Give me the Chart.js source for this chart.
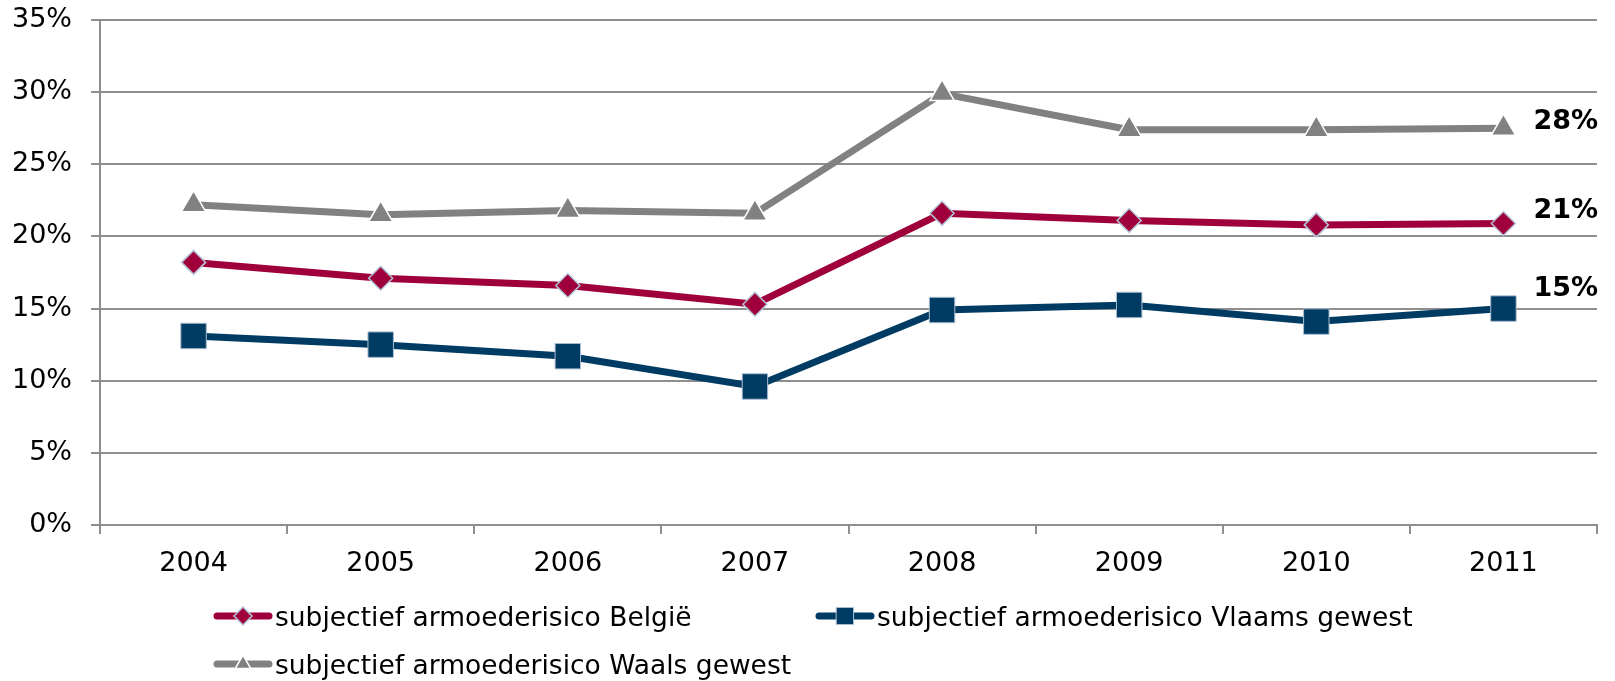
<!DOCTYPE html>
<html lang="nl">
<head>
    <meta charset="UTF-8">
    <title>Subjectief armoederisico</title>
    <script src="https://cdn.jsdelivr.net/npm/chart.js"></script>
    <style>
        body {
            margin: 0;
            background: #ffffff;
        }
        canvas {
            display: block;
        }
    </style>
</head>
<body>

    <canvas id="risico-chart" width="1615" height="681"></canvas>

    <script>
        // jaren en percentages
        const jaren = ['2004', '2005', '2006', '2007', '2008', '2009', '2010', '2011'];
        const belgie = [18.2, 17.1, 16.6, 15.3, 21.6, 21.1, 20.8, 20.9];
        const vlaanderen = [13.1, 12.5, 11.7, 9.6, 14.9, 15.25, 14.1, 15.0];
        const wallonie = [22.2, 21.5, 21.8, 21.6, 29.9, 27.4, 27.4, 27.5];
        const yTicks = [0, 5, 10, 15, 20, 25, 30, 35];

        const namen = [
            'subjectief armoederisico België',
            'subjectief armoederisico Vlaams gewest',
            'subjectief armoederisico Waals gewest'
        ];

        const kleurRood = '#9f003b';
        const kleurBlauw = '#003b63';
        const kleurGrijs = '#818181';
        const rasterKleur = '#8e8e8e';

        // eigen legende: lijn met marker in het midden
        const legendePlugin = {
            id: 'legende',
            afterDraw(chart) {
                const ctx = chart.ctx;
                const posities = [[214, 616], [816, 616], [214, 664]];
                chart.data.datasets.forEach(function(ds, i) {
                    const x = posities[i][0], y = posities[i][1];
                    ctx.save();
                    ctx.strokeStyle = ds.borderColor;
                    ctx.lineWidth = 7;
                    ctx.lineCap = 'round';
                    ctx.beginPath();
                    ctx.moveTo(x + 3, y);
                    ctx.lineTo(x + 55, y);
                    ctx.stroke();
                    ctx.fillStyle = ds.pointBackgroundColor;
                    ctx.strokeStyle = ds.pointBorderColor;
                    ctx.lineWidth = ds.pointBorderWidth;
                    Chart.helpers.drawPoint(ctx, {
                        pointStyle: ds.pointStyle,
                        radius: ds.legendRadius,
                        borderWidth: ds.pointBorderWidth,
                        rotation: 0
                    }, x + 29, y);
                    ctx.fillStyle = '#000000';
                    ctx.font = '26.5px "DejaVu Sans", sans-serif';
                    ctx.textBaseline = 'middle';
                    ctx.fillText(ds.label, x + 61, y + 3);
                    ctx.restore();
                });
            }
        };

        // waarde van het laatste jaar rechts van de lijn
        const eindLabels = {
            id: 'eindLabels',
            afterDatasetsDraw(chart) {
                const ctx = chart.ctx;
                ctx.save();
                ctx.font = 'bold 27px "DejaVu Sans", sans-serif';
                ctx.fillStyle = '#000000';
                ctx.textBaseline = 'middle';
                chart.data.datasets.forEach(function(ds, i) {
                    const meta = chart.getDatasetMeta(i);
                    const laatste = meta.data[meta.data.length - 1];
                    const waarde = ds.data[ds.data.length - 1];
                    ctx.fillText(Math.round(waarde) + '%', laatste.x + 30, laatste.y - ds.labelShift);
                });
                ctx.restore();
            }
        };

        const ctx = document.getElementById('risico-chart').getContext('2d');

        const risicoChart = new Chart(ctx, {
            type: 'line',
            data: {
                labels: jaren,
                datasets: [
                    {
                        label: namen[0],
                        data: belgie,
                        borderColor: kleurRood,
                        borderWidth: 7,
                        pointStyle: 'rectRot',
                        pointRadius: 12,
                        legendRadius: 9,
                        pointBackgroundColor: kleurRood,
                        pointBorderColor: '#b6c6da',
                        pointBorderWidth: 1.5,
                        labelShift: 12,
                        tension: 0
                    },
                    {
                        label: namen[1],
                        data: vlaanderen,
                        borderColor: kleurBlauw,
                        borderWidth: 7,
                        pointStyle: 'rect',
                        pointRadius: 18,
                        legendRadius: 12,
                        pointBackgroundColor: kleurBlauw,
                        pointBorderColor: '#a9bdd2',
                        pointBorderWidth: 1,
                        labelShift: 20,
                        tension: 0
                    },
                    {
                        label: namen[2],
                        data: wallonie,
                        borderColor: kleurGrijs,
                        borderWidth: 7,
                        pointStyle: 'triangle',
                        pointRadius: 14,
                        legendRadius: 9,
                        pointBackgroundColor: kleurGrijs,
                        pointBorderColor: '#ffffff',
                        pointBorderWidth: 1.5,
                        labelShift: 6,
                        tension: 0
                    }
                ]
            },
            options: {
                responsive: false,
                animation: false,
                layout: {
                    autoPadding: false,
                    padding: { left: 0, right: 18, top: 20, bottom: 0 }
                },
                plugins: {
                    legend: { display: false },
                    tooltip: { enabled: false }
                },
                scales: {
                    x: {
                        offset: true,
                        grid: {
                            offset: true,
                            drawOnChartArea: false,
                            color: rasterKleur,
                            lineWidth: 2,
                            tickLength: 9
                        },
                        border: { color: rasterKleur, width: 2 },
                        ticks: {
                            color: '#000000',
                            font: { family: '"DejaVu Sans", sans-serif', size: 27 },
                            padding: 14,
                            maxRotation: 0
                        },
                        afterFit: function(scale) {
                            scale.height = 156;
                        }
                    },
                    y: {
                        min: 0,
                        max: 35,
                        afterBuildTicks: function(scale) {
                            scale.ticks = yTicks.map(v => ({ value: v }));
                        },
                        grid: {
                            color: rasterKleur,
                            lineWidth: 2,
                            tickLength: 9
                        },
                        border: { color: rasterKleur, width: 2 },
                        ticks: {
                            color: '#000000',
                            font: { family: '"DejaVu Sans", sans-serif', size: 27 },
                            padding: 19,
                            callback: function(v) { return v + '%'; }
                        },
                        afterFit: function(scale) {
                            scale.width = 100;
                            scale.paddingTop = 0;
                        }
                    }
                }
            },
            plugins: [eindLabels, legendePlugin]
        });
    </script>
</body>
</html>
